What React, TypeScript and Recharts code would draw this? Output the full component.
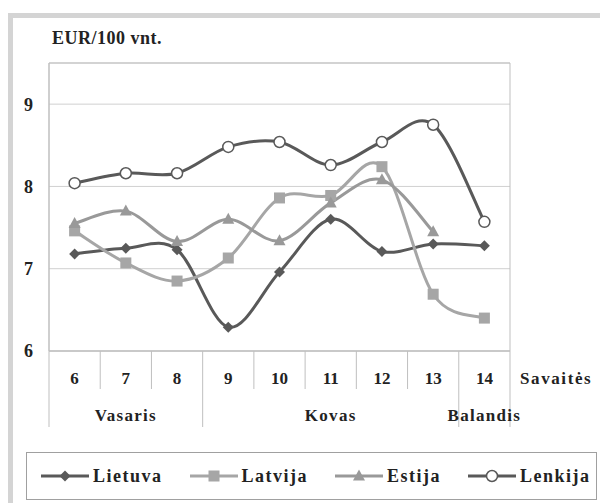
import React from 'react';
import { LineChart, Line, XAxis, YAxis, CartesianGrid, ReferenceArea } from 'recharts';

const weeks = ['6', '7', '8', '9', '10', '11', '12', '13', '14'];
const months = ['Vasaris', 'Vasaris', 'Vasaris', 'Kovas', 'Kovas', 'Kovas', 'Kovas', 'Kovas', 'Balandis'];
const lietuva = [7.18, 7.25, 7.23, 6.29, 6.96, 7.6, 7.21, 7.3, 7.28];
const latvija = [7.46, 7.07, 6.85, 7.13, 7.86, 7.89, 8.24, 6.69, 6.4];
const estija = [7.55, 7.7, 7.33, 7.6, 7.34, 7.8, 8.08, 7.45, null];
const lenkija = [8.04, 8.16, 8.16, 8.48, 8.54, 8.26, 8.54, 8.75, 7.57];
const yTicks = [6, 7, 8, 9];

const data = weeks.map((w, i) => ({
  week: w,
  Lietuva: lietuva[i],
  Latvija: latvija[i],
  Estija: estija[i],
  Lenkija: lenkija[i],
}));

const FONT = '"Liberation Serif", "Times New Roman", serif';
const DARK = '#595959';
const LIGHT = '#a6a6a6';
const MID = '#999999';
const AXIS = '#bfbfbf';

// Excel-like smoothed line (Catmull-Rom through the points)
const excelSmooth = (context: any) => {
  let pts: number[][] = [];
  return {
    areaStart() {},
    areaEnd() {},
    lineStart() {
      pts = [];
    },
    lineEnd() {
      const n = pts.length;
      if (!n) return;
      context.moveTo(pts[0][0], pts[0][1]);
      for (let i = 0; i < n - 1; i++) {
        const p0 = pts[i - 1] || pts[i];
        const p1 = pts[i];
        const p2 = pts[i + 1];
        const p3 = pts[i + 2] || p2;
        context.bezierCurveTo(
          p1[0] + (p2[0] - p0[0]) / 6,
          p1[1] + (p2[1] - p0[1]) / 6,
          p2[0] - (p3[0] - p1[0]) / 6,
          p2[1] - (p3[1] - p1[1]) / 6,
          p2[0],
          p2[1]
        );
      }
    },
    point(x: number, y: number) {
      pts.push([+x, +y]);
    },
  };
};

const Marker = ({ kind, cx, cy, color }: any) => {
  if (kind === 'diamond') {
    const s = 5.5;
    return <path d={`M${cx},${cy - s}L${cx + s},${cy}L${cx},${cy + s}L${cx - s},${cy}Z`} fill={color} />;
  }
  if (kind === 'square') {
    return <rect x={cx - 5.5} y={cy - 5.5} width={11} height={11} fill={color} />;
  }
  if (kind === 'triangle') {
    return <path d={`M${cx},${cy - 6.5}L${cx + 6},${cy + 4.5}L${cx - 6},${cy + 4.5}Z`} fill={color} />;
  }
  return <circle cx={cx} cy={cy} r={5.5} fill="#fff" stroke={color} strokeWidth={1.5} />;
};

const series = [
  { key: 'Lietuva', color: DARK, kind: 'diamond' },
  { key: 'Latvija', color: LIGHT, kind: 'square' },
  { key: 'Estija', color: MID, kind: 'triangle' },
  { key: 'Lenkija', color: DARK, kind: 'circle' },
];

const monthMid = (() => {
  const res: Record<number, string> = {};
  const groups: Record<string, number[]> = {};
  months.forEach((m, i) => {
    (groups[m] = groups[m] || []).push(i);
  });
  Object.keys(groups).forEach((m) => {
    const idx = groups[m];
    res[idx[Math.floor(idx.length / 2)]] = m;
  });
  return res;
})();

const WeekTick = (props: any) => {
  const { x, y, payload } = props;
  const i = payload.index;
  const half = payload.offset || 0;
  const monthStart = i === 0 || months[i] !== months[i - 1];
  const last = i === weeks.length - 1;
  return (
    <g>
      <line x1={x - half} y1={y} x2={x - half} y2={y + (monthStart ? 76 : 38)} stroke={AXIS} />
      {last && <line x1={x + half} y1={y} x2={x + half} y2={y + 76} stroke={AXIS} />}
      <text x={x} y={y + 33} textAnchor="middle" fontFamily={FONT} fontWeight="bold" fontSize={17} fill="#222">
        {payload.value}
      </text>
      {monthMid[i] && (
        <text x={x} y={y + 70} textAnchor="middle" fontFamily={FONT} fontWeight="bold" fontSize={17} letterSpacing={1.3} fill="#222">
          {monthMid[i]}
        </text>
      )}
      {last && (
        <text x={x + half + 10} y={y + 33} textAnchor="start" fontFamily={FONT} fontWeight="bold" fontSize={17} letterSpacing={1.6} fill="#222">
          Savaitės
        </text>
      )}
    </g>
  );
};

const LegendIcon = ({ color, kind }: any) => (
  <svg width={48} height={14} style={{ display: 'block' }}>
    <line x1={0} y1={7} x2={48} y2={7} stroke={color} strokeWidth={3} />
    <Marker kind={kind} cx={24} cy={7} color={color} />
  </svg>
);

export default function App() {
  return (
    <div style={{ position: 'absolute', left: 0, top: 0, width: 600, height: 503, overflow: 'hidden', background: '#fff' }}>
      <div
        style={{
          position: 'absolute',
          left: 8,
          top: 13,
          width: 620,
          height: 540,
          border: '5px solid #d4d4d4',
          boxSizing: 'border-box',
        }}
      />
      <div style={{ position: 'absolute', left: 0, top: 0 }}>
        <LineChart width={600} height={503} data={data} margin={{ top: 63, right: 90, bottom: 0, left: 0 }}>
          <CartesianGrid vertical={false} stroke="#d0d0d0" />
          <ReferenceArea y1={6} y2={9.5} fill="none" stroke={AXIS} strokeWidth={1} ifOverflow="visible" />
          <XAxis
            dataKey="week"
            scale="band"
            interval={0}
            tickSize={0}
            tickMargin={0}
            tickLine={false}
            axisLine={{ stroke: AXIS }}
            tick={<WeekTick />}
            height={152}
          />
          <YAxis
            width={49}
            domain={[6, 9.5]}
            ticks={yTicks}
            tickSize={0}
            tickMargin={16}
            axisLine={{ stroke: AXIS }}
            tickLine={false}
            tick={{ fontFamily: FONT, fontWeight: 'bold', fontSize: 18, fill: '#222' }}
            label={{
              position: 'insideTopLeft',
              content: (p: any) => (
                <text
                  x={(p.viewBox?.x ?? 0) + 52}
                  y={(p.viewBox?.y ?? 63) - 19}
                  fontFamily={FONT}
                  fontWeight="bold"
                  fontSize={18}
                  letterSpacing={0.5}
                  fill="#222"
                >
                  EUR/100 vnt.
                </text>
              ),
            }}
          />
          {series.map((s) => (
            <Line
              key={s.key}
              dataKey={s.key}
              type={excelSmooth as any}
              stroke={s.color}
              strokeWidth={3}
              isAnimationActive={false}
              dot={(p: any) =>
                p.cy == null || p.value == null ? (
                  <g key={p.key || p.index} />
                ) : (
                  <g key={p.key || p.index}>
                    <Marker kind={s.kind} cx={p.cx} cy={p.cy} color={s.color} />
                  </g>
                )
              }
              activeDot={false}
            />
          ))}
        </LineChart>
      </div>
      <div
        style={{
          position: 'absolute',
          left: 26,
          top: 452,
          width: 571,
          height: 48,
          border: '1px solid #a0a0a0',
          boxSizing: 'border-box',
          display: 'flex',
          alignItems: 'center',
          paddingLeft: 14,
          fontFamily: FONT,
          fontWeight: 'bold',
          fontSize: 18,
          letterSpacing: 1.5,
          color: '#222',
        }}
      >
        {series.map((s, i) => (
          <div key={s.key} style={{ display: 'flex', alignItems: 'center', marginRight: i < 3 ? 27 : 0 }}>
            <LegendIcon color={s.color} kind={s.kind} />
            <span style={{ marginLeft: 4 }}>{s.key}</span>
          </div>
        ))}
      </div>
    </div>
  );
}
